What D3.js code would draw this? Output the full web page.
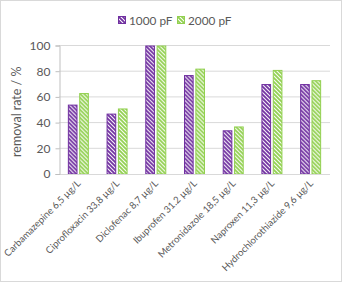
<!DOCTYPE html>
<html>
<head>
<meta charset="utf-8">
<script src="https://cdn.jsdelivr.net/npm/d3@7"></script>
<style>
  body { margin: 0; background: #fff; }
  text { font-family: Lato, "Open Sans", sans-serif; fill: #595959; }
</style>
</head>
<body>
<div id="chart"></div>
<script>
const categories = ["Carbamazepine 6,5 µg/L", "Ciprofloxacin 33,8 µg/L", "Diclofenac 8,7 µg/L",
  "Ibuprofen 31.2 µg/L", "Metronidazole 18,5 µg/L", "Naproxen 11,3 µg/L", "Hydrochlorothiazide 9,6 µg/L"];
const seriesNames = ["1000 pF", "2000 pF"];
const values1000 = [54, 47, 100, 77, 34, 70, 70];
const values2000 = [63, 51, 100, 82, 37, 81, 73];
const yTicks = [0, 20, 40, 60, 80, 100];
const colors = ["#7030a0", "#92d050"];

const width = 342, height = 282;
const m = {top: 45.5, right: 12, bottom: 108, left: 59};

const svg = d3.select("#chart").append("svg")
  .attr("width", width).attr("height", height);

svg.append("rect")
  .attr("x", 0.5).attr("y", 0.5)
  .attr("width", width - 1).attr("height", height - 1)
  .attr("fill", "#fff").attr("stroke", "#d9d9d9");

// stripe patterns
const defs = svg.append("defs");
colors.forEach((c, i) => {
  const p = defs.append("pattern")
    .attr("id", "stripe" + i)
    .attr("patternUnits", "userSpaceOnUse")
    .attr("width", 4).attr("height", 4);
  p.append("rect").attr("width", 4).attr("height", 4).attr("fill", "#fff");
  p.append("path")
    .attr("d", "M-1,-1 L5,5 M-1,3 L1,5 M3,-1 L5,1")
    .attr("stroke", c).attr("stroke-width", 1.8);
});

const x0 = d3.scaleBand().domain(categories).range([m.left, width - m.right]);
const x1 = d3.scaleBand().domain(seriesNames).range([-10.5, 10.5]).paddingInner(0.15);
const y = d3.scaleLinear().domain([0, 100]).range([height - m.bottom, m.top]);

// gridlines
svg.append("g").selectAll("line")
  .data(yTicks.slice(1))
  .enter().append("line")
  .attr("x1", m.left).attr("x2", width - m.right)
  .attr("y1", d => y(d)).attr("y2", d => y(d))
  .attr("stroke", "#d9d9d9").attr("stroke-width", 1);

// bars
const table = categories.map((c, i) => ({cat: c, vals: [values1000[i], values2000[i]]}));
const groups = svg.append("g").selectAll("g")
  .data(table)
  .enter().append("g")
  .attr("transform", d => "translate(" + (x0(d.cat) + x0.bandwidth() / 2) + ",0)");

groups.selectAll("rect")
  .data(d => d.vals.map((v, i) => ({s: seriesNames[i], v, i})))
  .enter().append("rect")
  .attr("x", d => x1(d.s) + 0.5)
  .attr("y", d => y(d.v) + 0.5)
  .attr("width", x1.bandwidth() - 1)
  .attr("height", d => y(0) - y(d.v) - 0.5)
  .attr("fill", d => "url(#stripe" + d.i + ")")
  .attr("stroke", d => colors[d.i]).attr("stroke-width", 1);

// x axis line
svg.append("line")
  .attr("x1", m.left).attr("x2", width - m.right)
  .attr("y1", y(0) + 0.5).attr("y2", y(0) + 0.5)
  .attr("stroke", "#d9d9d9");

// y axis
const yAxis = svg.append("g")
  .attr("transform", "translate(" + (m.left + 0.5) + ",0)")
  .call(d3.axisLeft(y).tickValues(yTicks).tickSize(4).tickPadding(5));
yAxis.selectAll("path, line").attr("stroke", "#bfbfbf");
yAxis.selectAll("text").attr("font-size", 12).style("fill", "#595959")
  .attr("font-family", "Lato, sans-serif");

svg.append("text")
  .attr("transform", "translate(21," + ((m.top + y(0)) / 2 + 2) + ") rotate(-90)")
  .attr("text-anchor", "middle")
  .attr("font-size", 12.5)
  .text("removal rate / %");

// x labels
svg.append("g").selectAll("text")
  .data(categories)
  .enter().append("text")
  .attr("transform", d => "translate(" + (x0(d) + x0.bandwidth() / 2 + 3) + "," + (y(0) + 10) + ") rotate(-45)")
  .attr("text-anchor", "end")
  .attr("font-size", 9.6)
  .text(d => d);

// legend
const legend = svg.append("g").selectAll("g")
  .data(seriesNames)
  .enter().append("g")
  .attr("transform", (d, i) => "translate(" + (118 + i * 59) + ",16)");
legend.append("rect")
  .attr("x", 0.5).attr("y", 0.5).attr("width", 7).attr("height", 7)
  .attr("fill", (d, i) => "url(#stripe" + i + ")")
  .attr("stroke", (d, i) => colors[i]);
legend.append("text")
  .attr("x", 11).attr("y", 8.5)
  .attr("font-size", 11.8)
  .text(d => d);
</script>
</body>
</html>
